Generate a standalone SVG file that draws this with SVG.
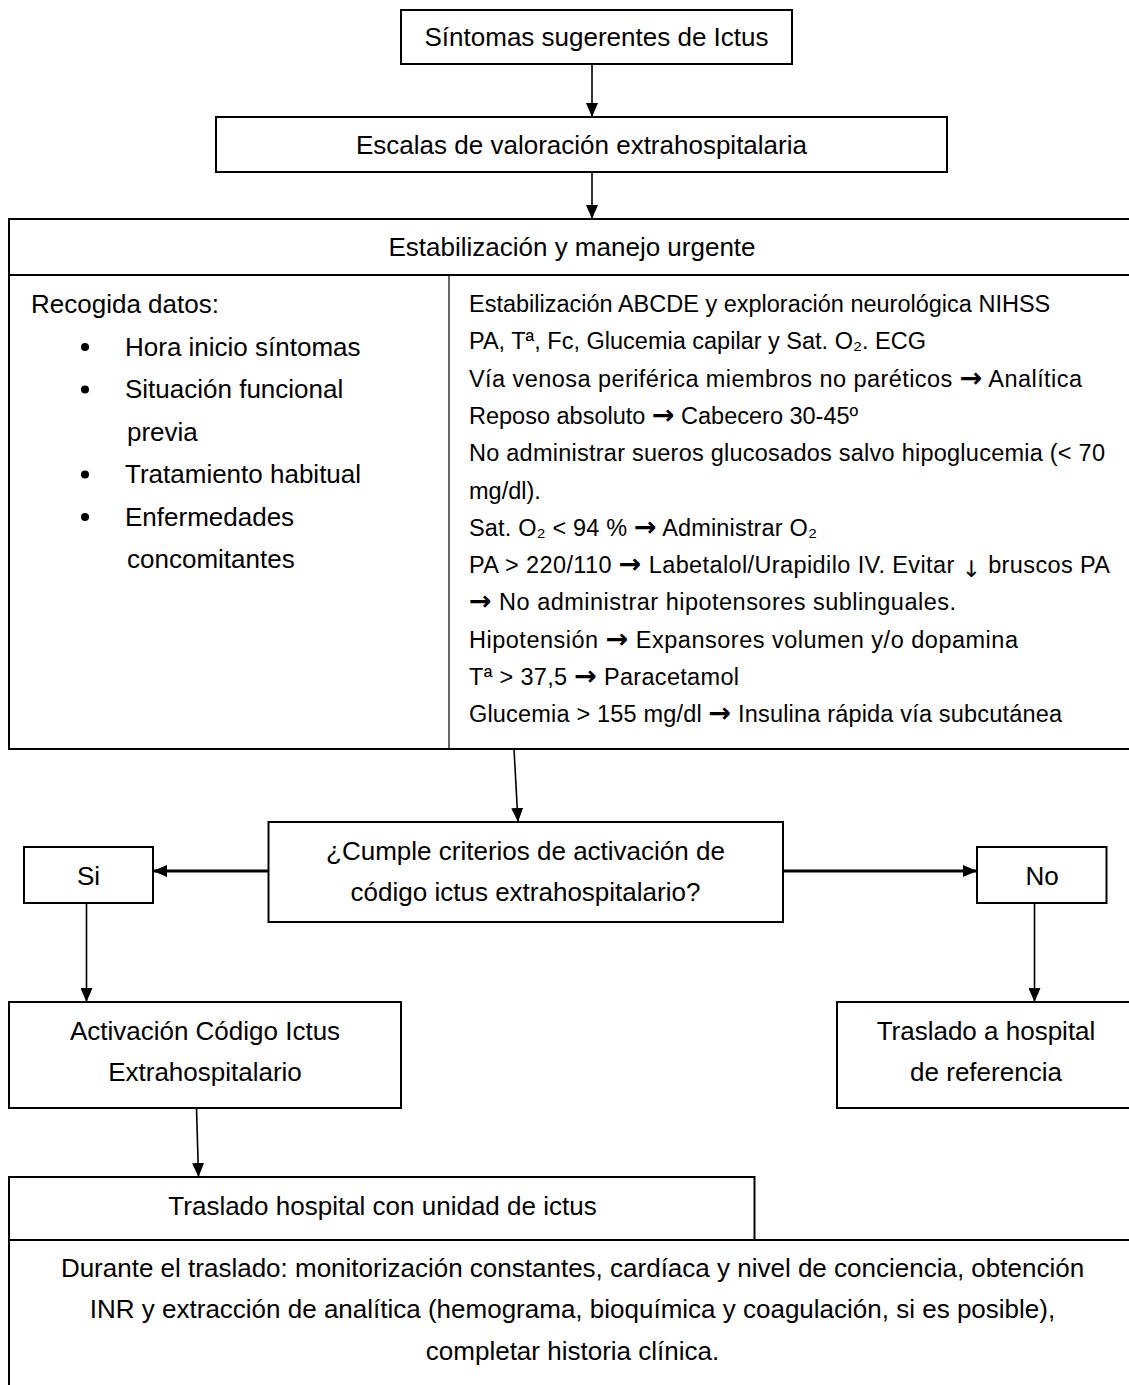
<svg xmlns="http://www.w3.org/2000/svg" width="1129" height="1385" viewBox="0 0 1129 1385">
<style>
text{font-family:"Liberation Sans",Arial,sans-serif;fill:#000}
.t{font-size:26px}
.c{text-anchor:middle}
.b{font-size:23.5px}
.ar{font-family:"DejaVu Sans",sans-serif;font-weight:bold;font-size:27px}
.dn{font-family:"DejaVu Sans",sans-serif;font-size:23px}
.box{fill:#fff;stroke:#000;stroke-width:2}
.thin{stroke:#000;stroke-width:1.2;fill:none}
.con{stroke:#000;stroke-width:1.6;fill:none}
.conw{stroke:#000;stroke-width:3;fill:none}
</style>
<defs>
<marker id="ah" markerUnits="userSpaceOnUse" markerWidth="14" markerHeight="12" refX="14" refY="6" orient="auto">
<path d="M0,0 L14,6 L0,12 z" fill="#000"/>
</marker>
</defs>
<rect width="1129" height="1385" fill="#fff"/>

<g id="connectors">
<line class="con" x1="592" y1="64" x2="592" y2="117" marker-end="url(#ah)"/>
<line class="con" x1="592" y1="172" x2="592" y2="219" marker-end="url(#ah)"/>
<line class="con" x1="514" y1="749" x2="518" y2="822" marker-end="url(#ah)"/>
<line class="conw" x1="268" y1="871" x2="153" y2="871" marker-end="url(#ah)"/>
<line class="conw" x1="783" y1="871" x2="977" y2="871" marker-end="url(#ah)"/>
<line class="con" x1="86.5" y1="903" x2="86.5" y2="1002" marker-end="url(#ah)"/>
<line class="con" x1="1034.5" y1="903" x2="1034.5" y2="1002" marker-end="url(#ah)"/>
<line class="con" x1="196.5" y1="1108" x2="198.5" y2="1177" marker-end="url(#ah)"/>
</g>

<g id="sintomas">
<rect class="box" x="401" y="10" width="391" height="54"/>
<text class="t c" x="596.5" y="46">Síntomas sugerentes de Ictus</text>
</g>

<g id="escalas">
<rect class="box" x="216" y="117" width="731" height="55"/>
<text class="t c" x="581.5" y="154">Escalas de valoración extrahospitalaria</text>
</g>

<g id="estabilizacion">
<rect class="box" x="9" y="219" width="1130" height="530"/>
<line class="box" x1="9" y1="275" x2="1139" y2="275"/>
<line class="thin" x1="449" y1="275" x2="449" y2="749"/>
<text class="t c" x="572" y="256">Estabilización y manejo urgente</text>
<g id="recogida">
<text class="t" x="31" y="313">Recogida datos:</text>
<circle cx="85" cy="347" r="4"/>
<circle cx="85" cy="389.5" r="4"/>
<circle cx="85" cy="474.5" r="4"/>
<circle cx="85" cy="517" r="4"/>
<text class="t" x="125" y="355.5">Hora inicio síntomas</text>
<text class="t" x="125" y="398">Situación funcional</text>
<text class="t" x="127" y="440.5">previa</text>
<text class="t" x="125" y="483">Tratamiento habitual</text>
<text class="t" x="125" y="525.5">Enfermedades</text>
<text class="t" x="127" y="568">concomitantes</text>
</g>
<g id="manejo">
<text class="b" x="469" y="312">Estabilización ABCDE y exploración neurológica NIHSS</text>
<text class="b" x="469" y="349.3">PA, Tª, Fc, Glucemia capilar y Sat. O₂. ECG</text>
<text class="b" x="469" y="386.6" textLength="613">Vía venosa periférica miembros no paréticos <tspan class="ar">→</tspan> Analítica</text>
<text class="b" x="469" y="423.9">Reposo absoluto <tspan class="ar">→</tspan> Cabecero 30-45º</text>
<text class="b" x="469" y="461.2" textLength="636">No administrar sueros glucosados salvo hipoglucemia (&lt; 70</text>
<text class="b" x="469" y="498.5">mg/dl).</text>
<text class="b" x="469" y="535.8" textLength="348">Sat. O₂ &lt; 94 % <tspan class="ar">→</tspan> Administrar O₂</text>
<text class="b" x="469" y="573.1" textLength="641">PA &gt; 220/110 <tspan class="ar">→</tspan> Labetalol/Urapidilo IV. Evitar <tspan class="dn" dy="4">↓</tspan><tspan dy="-4"> bruscos PA</tspan></text>
<text class="b" x="469" y="610.4" textLength="487"><tspan class="ar">→</tspan> No administrar hipotensores sublinguales.</text>
<text class="b" x="469" y="647.7" textLength="549">Hipotensión <tspan class="ar">→</tspan> Expansores volumen y/o dopamina</text>
<text class="b" x="469" y="685" textLength="270">Tª &gt; 37,5 <tspan class="ar">→</tspan> Paracetamol</text>
<text class="b" x="469" y="722.3" textLength="593">Glucemia &gt; 155 mg/dl <tspan class="ar">→</tspan> Insulina rápida vía subcutánea</text>
</g>
</g>

<g id="decision">
<rect class="box" x="268.5" y="822" width="514.5" height="100"/>
<text class="t c" x="525.5" y="860">¿Cumple criterios de activación de</text>
<text class="t c" x="525.5" y="901">código ictus extrahospitalario?</text>
</g>

<g id="si">
<rect class="box" x="24" y="847" width="129" height="56"/>
<text class="t c" x="88.5" y="885">Si</text>
</g>

<g id="no">
<rect class="box" x="977" y="847" width="129.5" height="56"/>
<text class="t c" x="1042" y="885">No</text>
</g>

<g id="activacion">
<rect class="box" x="9" y="1002" width="392" height="106"/>
<text class="t c" x="205" y="1040">Activación Código Ictus</text>
<text class="t c" x="205" y="1081">Extrahospitalario</text>
</g>

<g id="traslado-referencia">
<rect class="box" x="837" y="1002" width="300" height="106"/>
<text class="t c" x="986" y="1040">Traslado a hospital</text>
<text class="t c" x="986" y="1081">de referencia</text>
</g>

<g id="traslado-unidad">
<rect class="box" x="9" y="1177" width="745.5" height="63"/>
<text class="t c" x="382.5" y="1215">Traslado hospital con unidad de ictus</text>
</g>

<g id="durante">
<path class="box" d="M1139,1240 H9 V1395" fill="none"/>
<text class="t c" x="572.5" y="1277">Durante el traslado: monitorización constantes, cardíaca y nivel de conciencia, obtención</text>
<text class="t c" x="572.5" y="1318">INR y extracción de analítica (hemograma, bioquímica y coagulación, si es posible),</text>
<text class="t c" x="572.5" y="1360">completar historia clínica.</text>
</g>
</svg>
